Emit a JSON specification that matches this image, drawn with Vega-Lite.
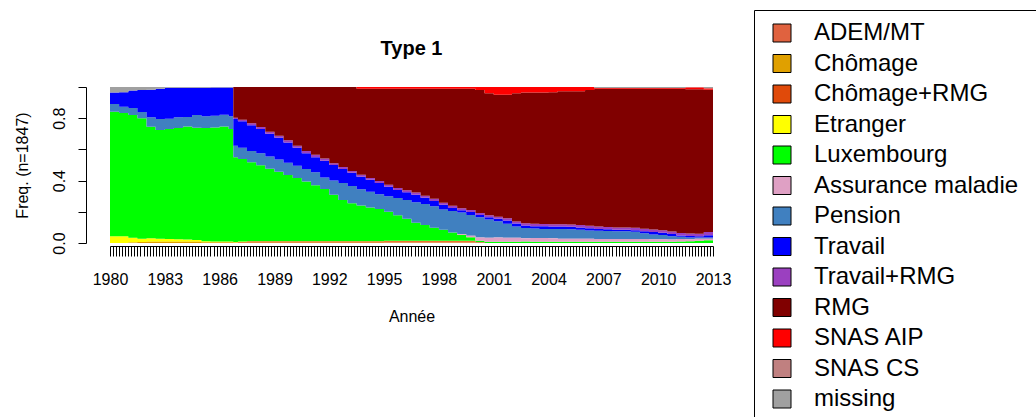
{
"$schema": "https://vega.github.io/schema/vega-lite/v6.json",
"autosize": {"type": "none"},
"width": 603,
"height": 156,
"padding": {"left": 110, "top": 87, "right": 323, "bottom": 174},
"background": "white",
"config": {"view": {"stroke": null}, "font": "Liberation Sans"},
"title": {"text": "Type 1", "fontSize": 20, "fontWeight": "bold", "font": "Liberation Sans", "color": "#000", "anchor": "middle", "frame": "group", "baseline": "alphabetic", "offset": 30, "dy": 95},
"data": {"values": [
{"d":"1980-01-01","s":"Etranger","k":4,"v":0.043},{"d":"1980-01-01","s":"Luxembourg","k":5,"v":0.799},{"d":"1980-01-01","s":"Pension","k":7,"v":0.049},{"d":"1980-01-01","s":"Travail","k":8,"v":0.074},{"d":"1980-01-01","s":"missing","k":13,"v":0.035},
{"d":"1980-07-01","s":"Etranger","k":4,"v":0.043},{"d":"1980-07-01","s":"Luxembourg","k":5,"v":0.790},{"d":"1980-07-01","s":"Pension","k":7,"v":0.041},{"d":"1980-07-01","s":"Travail","k":8,"v":0.093},{"d":"1980-07-01","s":"missing","k":13,"v":0.033},
{"d":"1981-01-01","s":"Etranger","k":4,"v":0.030},{"d":"1981-01-01","s":"Chômage","k":2,"v":0.004},{"d":"1981-01-01","s":"Luxembourg","k":5,"v":0.786},{"d":"1981-01-01","s":"Pension","k":7,"v":0.045},{"d":"1981-01-01","s":"Travail","k":8,"v":0.113},{"d":"1981-01-01","s":"missing","k":13,"v":0.022},
{"d":"1981-07-01","s":"Etranger","k":4,"v":0.022},{"d":"1981-07-01","s":"Chômage","k":2,"v":0.006},{"d":"1981-07-01","s":"Luxembourg","k":5,"v":0.772},{"d":"1981-07-01","s":"Pension","k":7,"v":0.040},{"d":"1981-07-01","s":"Travail","k":8,"v":0.140},{"d":"1981-07-01","s":"missing","k":13,"v":0.020},
{"d":"1982-01-01","s":"Etranger","k":4,"v":0.022},{"d":"1982-01-01","s":"Chômage","k":2,"v":0.008},{"d":"1982-01-01","s":"Luxembourg","k":5,"v":0.715},{"d":"1982-01-01","s":"Pension","k":7,"v":0.061},{"d":"1982-01-01","s":"Travail","k":8,"v":0.176},{"d":"1982-01-01","s":"missing","k":13,"v":0.018},
{"d":"1982-07-01","s":"Etranger","k":4,"v":0.020},{"d":"1982-07-01","s":"Chômage","k":2,"v":0.008},{"d":"1982-07-01","s":"Luxembourg","k":5,"v":0.697},{"d":"1982-07-01","s":"Pension","k":7,"v":0.070},{"d":"1982-07-01","s":"Travail","k":8,"v":0.193},{"d":"1982-07-01","s":"missing","k":13,"v":0.012},
{"d":"1983-01-01","s":"Etranger","k":4,"v":0.018},{"d":"1983-01-01","s":"Chômage","k":2,"v":0.008},{"d":"1983-01-01","s":"Luxembourg","k":5,"v":0.705},{"d":"1983-01-01","s":"Pension","k":7,"v":0.066},{"d":"1983-01-01","s":"Travail","k":8,"v":0.198},{"d":"1983-01-01","s":"missing","k":13,"v":0.005},
{"d":"1983-07-01","s":"Etranger","k":4,"v":0.016},{"d":"1983-07-01","s":"Chômage","k":2,"v":0.008},{"d":"1983-07-01","s":"Luxembourg","k":5,"v":0.713},{"d":"1983-07-01","s":"Pension","k":7,"v":0.069},{"d":"1983-07-01","s":"Travail","k":8,"v":0.189},{"d":"1983-07-01","s":"missing","k":13,"v":0.005},
{"d":"1984-01-01","s":"Etranger","k":4,"v":0.014},{"d":"1984-01-01","s":"Chômage","k":2,"v":0.008},{"d":"1984-01-01","s":"Luxembourg","k":5,"v":0.724},{"d":"1984-01-01","s":"Pension","k":7,"v":0.062},{"d":"1984-01-01","s":"Travail","k":8,"v":0.187},{"d":"1984-01-01","s":"missing","k":13,"v":0.005},
{"d":"1984-07-01","s":"Etranger","k":4,"v":0.012},{"d":"1984-07-01","s":"Chômage","k":2,"v":0.008},{"d":"1984-07-01","s":"Luxembourg","k":5,"v":0.719},{"d":"1984-07-01","s":"Pension","k":7,"v":0.081},{"d":"1984-07-01","s":"Travail","k":8,"v":0.175},{"d":"1984-07-01","s":"missing","k":13,"v":0.005},
{"d":"1985-01-01","s":"Etranger","k":4,"v":0.007},{"d":"1985-01-01","s":"Chômage","k":2,"v":0.005},{"d":"1985-01-01","s":"Luxembourg","k":5,"v":0.725},{"d":"1985-01-01","s":"Pension","k":7,"v":0.075},{"d":"1985-01-01","s":"Travail","k":8,"v":0.183},{"d":"1985-01-01","s":"missing","k":13,"v":0.005},
{"d":"1985-07-01","s":"Etranger","k":4,"v":0.005},{"d":"1985-07-01","s":"Chômage","k":2,"v":0.005},{"d":"1985-07-01","s":"Luxembourg","k":5,"v":0.731},{"d":"1985-07-01","s":"Pension","k":7,"v":0.075},{"d":"1985-07-01","s":"Travail","k":8,"v":0.180},{"d":"1985-07-01","s":"missing","k":13,"v":0.004},
{"d":"1986-01-01","s":"Etranger","k":4,"v":0.004},{"d":"1986-01-01","s":"Chômage","k":2,"v":0.005},{"d":"1986-01-01","s":"Luxembourg","k":5,"v":0.737},{"d":"1986-01-01","s":"Pension","k":7,"v":0.076},{"d":"1986-01-01","s":"Travail","k":8,"v":0.174},{"d":"1986-01-01","s":"missing","k":13,"v":0.004},
{"d":"1986-07-01","s":"Etranger","k":4,"v":0.004},{"d":"1986-07-01","s":"Chômage","k":2,"v":0.005},{"d":"1986-07-01","s":"Luxembourg","k":5,"v":0.722},{"d":"1986-07-01","s":"Pension","k":7,"v":0.081},{"d":"1986-07-01","s":"Travail","k":8,"v":0.184},{"d":"1986-07-01","s":"missing","k":13,"v":0.004},
{"d":"1986-10-01","s":"Etranger","k":4,"v":0.003},{"d":"1986-10-01","s":"Chômage","k":2,"v":0.004},{"d":"1986-10-01","s":"Luxembourg","k":5,"v":0.542},{"d":"1986-10-01","s":"Pension","k":7,"v":0.075},{"d":"1986-10-01","s":"Travail","k":8,"v":0.171},{"d":"1986-10-01","s":"Travail+RMG","k":9,"v":0.008},{"d":"1986-10-01","s":"RMG","k":10,"v":0.197},{"d":"1986-10-01","s":"missing","k":13,"v":0},
{"d":"1987-01-01","s":"Etranger","k":4,"v":0.003},{"d":"1987-01-01","s":"Chômage","k":2,"v":0.004},{"d":"1987-01-01","s":"Chômage+RMG","k":3,"v":0.003},{"d":"1987-01-01","s":"Luxembourg","k":5,"v":0.528},{"d":"1987-01-01","s":"Pension","k":7,"v":0.072},{"d":"1987-01-01","s":"Travail","k":8,"v":0.170},{"d":"1987-01-01","s":"Travail+RMG","k":9,"v":0.010},{"d":"1987-01-01","s":"RMG","k":10,"v":0.210},
{"d":"1987-07-01","s":"Etranger","k":4,"v":0.003},{"d":"1987-07-01","s":"Chômage","k":2,"v":0.004},{"d":"1987-07-01","s":"Chômage+RMG","k":3,"v":0.005},{"d":"1987-07-01","s":"Luxembourg","k":5,"v":0.505},{"d":"1987-07-01","s":"Pension","k":7,"v":0.073},{"d":"1987-07-01","s":"Travail","k":8,"v":0.165},{"d":"1987-07-01","s":"Travail+RMG","k":9,"v":0.012},{"d":"1987-07-01","s":"RMG","k":10,"v":0.233},
{"d":"1988-01-01","s":"Etranger","k":4,"v":0.003},{"d":"1988-01-01","s":"Chômage","k":2,"v":0.004},{"d":"1988-01-01","s":"Chômage+RMG","k":3,"v":0.005},{"d":"1988-01-01","s":"Luxembourg","k":5,"v":0.486},{"d":"1988-01-01","s":"Pension","k":7,"v":0.077},{"d":"1988-01-01","s":"Travail","k":8,"v":0.155},{"d":"1988-01-01","s":"Travail+RMG","k":9,"v":0.013},{"d":"1988-01-01","s":"RMG","k":10,"v":0.257},
{"d":"1988-07-01","s":"Etranger","k":4,"v":0.003},{"d":"1988-07-01","s":"Chômage","k":2,"v":0.004},{"d":"1988-07-01","s":"Chômage+RMG","k":3,"v":0.005},{"d":"1988-07-01","s":"Luxembourg","k":5,"v":0.464},{"d":"1988-07-01","s":"Pension","k":7,"v":0.079},{"d":"1988-07-01","s":"Travail","k":8,"v":0.145},{"d":"1988-07-01","s":"Travail+RMG","k":9,"v":0.013},{"d":"1988-07-01","s":"RMG","k":10,"v":0.287},
{"d":"1989-01-01","s":"Etranger","k":4,"v":0.003},{"d":"1989-01-01","s":"Chômage","k":2,"v":0.004},{"d":"1989-01-01","s":"Chômage+RMG","k":3,"v":0.005},{"d":"1989-01-01","s":"Luxembourg","k":5,"v":0.445},{"d":"1989-01-01","s":"Pension","k":7,"v":0.078},{"d":"1989-01-01","s":"Travail","k":8,"v":0.140},{"d":"1989-01-01","s":"Travail+RMG","k":9,"v":0.013},{"d":"1989-01-01","s":"RMG","k":10,"v":0.312},
{"d":"1989-07-01","s":"Etranger","k":4,"v":0.003},{"d":"1989-07-01","s":"Chômage","k":2,"v":0.004},{"d":"1989-07-01","s":"Chômage+RMG","k":3,"v":0.005},{"d":"1989-07-01","s":"Luxembourg","k":5,"v":0.424},{"d":"1989-07-01","s":"Pension","k":7,"v":0.079},{"d":"1989-07-01","s":"Travail","k":8,"v":0.130},{"d":"1989-07-01","s":"Travail+RMG","k":9,"v":0.014},{"d":"1989-07-01","s":"RMG","k":10,"v":0.341},
{"d":"1990-01-01","s":"Etranger","k":4,"v":0.003},{"d":"1990-01-01","s":"Chômage","k":2,"v":0.004},{"d":"1990-01-01","s":"Chômage+RMG","k":3,"v":0.005},{"d":"1990-01-01","s":"Luxembourg","k":5,"v":0.405},{"d":"1990-01-01","s":"Pension","k":7,"v":0.078},{"d":"1990-01-01","s":"Travail","k":8,"v":0.115},{"d":"1990-01-01","s":"Travail+RMG","k":9,"v":0.014},{"d":"1990-01-01","s":"RMG","k":10,"v":0.376},
{"d":"1990-07-01","s":"Etranger","k":4,"v":0.003},{"d":"1990-07-01","s":"Chômage","k":2,"v":0.004},{"d":"1990-07-01","s":"Chômage+RMG","k":3,"v":0.005},{"d":"1990-07-01","s":"Luxembourg","k":5,"v":0.383},{"d":"1990-07-01","s":"Pension","k":7,"v":0.080},{"d":"1990-07-01","s":"Travail","k":8,"v":0.100},{"d":"1990-07-01","s":"Travail+RMG","k":9,"v":0.015},{"d":"1990-07-01","s":"RMG","k":10,"v":0.410},
{"d":"1991-01-01","s":"Etranger","k":4,"v":0.003},{"d":"1991-01-01","s":"Chômage","k":2,"v":0.004},{"d":"1991-01-01","s":"Chômage+RMG","k":3,"v":0.005},{"d":"1991-01-01","s":"Luxembourg","k":5,"v":0.358},{"d":"1991-01-01","s":"Pension","k":7,"v":0.083},{"d":"1991-01-01","s":"Travail","k":8,"v":0.097},{"d":"1991-01-01","s":"Travail+RMG","k":9,"v":0.015},{"d":"1991-01-01","s":"RMG","k":10,"v":0.435},
{"d":"1991-07-01","s":"Etranger","k":4,"v":0.003},{"d":"1991-07-01","s":"Chômage","k":2,"v":0.004},{"d":"1991-07-01","s":"Chômage+RMG","k":3,"v":0.005},{"d":"1991-07-01","s":"Luxembourg","k":5,"v":0.334},{"d":"1991-07-01","s":"Pension","k":7,"v":0.074},{"d":"1991-07-01","s":"Travail","k":8,"v":0.108},{"d":"1991-07-01","s":"Travail+RMG","k":9,"v":0.014},{"d":"1991-07-01","s":"RMG","k":10,"v":0.458},
{"d":"1992-01-01","s":"Etranger","k":4,"v":0.003},{"d":"1992-01-01","s":"Chômage","k":2,"v":0.004},{"d":"1992-01-01","s":"Chômage+RMG","k":3,"v":0.005},{"d":"1992-01-01","s":"Luxembourg","k":5,"v":0.298},{"d":"1992-01-01","s":"Pension","k":7,"v":0.090},{"d":"1992-01-01","s":"Travail","k":8,"v":0.100},{"d":"1992-01-01","s":"Travail+RMG","k":9,"v":0.012},{"d":"1992-01-01","s":"RMG","k":10,"v":0.488},
{"d":"1992-07-01","s":"Etranger","k":4,"v":0.003},{"d":"1992-07-01","s":"Chômage","k":2,"v":0.004},{"d":"1992-07-01","s":"Chômage+RMG","k":3,"v":0.005},{"d":"1992-07-01","s":"Luxembourg","k":5,"v":0.263},{"d":"1992-07-01","s":"Pension","k":7,"v":0.110},{"d":"1992-07-01","s":"Travail","k":8,"v":0.090},{"d":"1992-07-01","s":"Travail+RMG","k":9,"v":0.012},{"d":"1992-07-01","s":"RMG","k":10,"v":0.513},
{"d":"1993-01-01","s":"Etranger","k":4,"v":0.003},{"d":"1993-01-01","s":"Chômage","k":2,"v":0.004},{"d":"1993-01-01","s":"Chômage+RMG","k":3,"v":0.005},{"d":"1993-01-01","s":"Luxembourg","k":5,"v":0.243},{"d":"1993-01-01","s":"Pension","k":7,"v":0.110},{"d":"1993-01-01","s":"Travail","k":8,"v":0.085},{"d":"1993-01-01","s":"Travail+RMG","k":9,"v":0.012},{"d":"1993-01-01","s":"RMG","k":10,"v":0.538},
{"d":"1993-07-01","s":"Etranger","k":4,"v":0.003},{"d":"1993-07-01","s":"Chômage","k":2,"v":0.004},{"d":"1993-07-01","s":"Chômage+RMG","k":3,"v":0.005},{"d":"1993-07-01","s":"Luxembourg","k":5,"v":0.228},{"d":"1993-07-01","s":"Pension","k":7,"v":0.105},{"d":"1993-07-01","s":"Travail","k":8,"v":0.080},{"d":"1993-07-01","s":"Travail+RMG","k":9,"v":0.012},{"d":"1993-07-01","s":"RMG","k":10,"v":0.551},{"d":"1993-07-01","s":"SNAS AIP","k":11,"v":0.012},
{"d":"1994-01-01","s":"Etranger","k":4,"v":0.003},{"d":"1994-01-01","s":"Chômage","k":2,"v":0.004},{"d":"1994-01-01","s":"Chômage+RMG","k":3,"v":0.005},{"d":"1994-01-01","s":"Luxembourg","k":5,"v":0.216},{"d":"1994-01-01","s":"Pension","k":7,"v":0.100},{"d":"1994-01-01","s":"Travail","k":8,"v":0.077},{"d":"1994-01-01","s":"Travail+RMG","k":9,"v":0.012},{"d":"1994-01-01","s":"RMG","k":10,"v":0.571},{"d":"1994-01-01","s":"SNAS AIP","k":11,"v":0.012},
{"d":"1994-07-01","s":"Etranger","k":4,"v":0.003},{"d":"1994-07-01","s":"Chômage","k":2,"v":0.004},{"d":"1994-07-01","s":"Chômage+RMG","k":3,"v":0.005},{"d":"1994-07-01","s":"Luxembourg","k":5,"v":0.206},{"d":"1994-07-01","s":"Pension","k":7,"v":0.095},{"d":"1994-07-01","s":"Travail","k":8,"v":0.072},{"d":"1994-07-01","s":"Travail+RMG","k":9,"v":0.012},{"d":"1994-07-01","s":"RMG","k":10,"v":0.591},{"d":"1994-07-01","s":"SNAS AIP","k":11,"v":0.012},
{"d":"1995-01-01","s":"ADEM/MT","k":1,"v":0.003},{"d":"1995-01-01","s":"Etranger","k":4,"v":0.003},{"d":"1995-01-01","s":"Chômage","k":2,"v":0.004},{"d":"1995-01-01","s":"Chômage+RMG","k":3,"v":0.005},{"d":"1995-01-01","s":"Luxembourg","k":5,"v":0.185},{"d":"1995-01-01","s":"Pension","k":7,"v":0.100},{"d":"1995-01-01","s":"Travail","k":8,"v":0.060},{"d":"1995-01-01","s":"Travail+RMG","k":9,"v":0.013},{"d":"1995-01-01","s":"RMG","k":10,"v":0.615},{"d":"1995-01-01","s":"SNAS AIP","k":11,"v":0.012},
{"d":"1995-07-01","s":"ADEM/MT","k":1,"v":0.003},{"d":"1995-07-01","s":"Etranger","k":4,"v":0.003},{"d":"1995-07-01","s":"Chômage","k":2,"v":0.004},{"d":"1995-07-01","s":"Chômage+RMG","k":3,"v":0.005},{"d":"1995-07-01","s":"Luxembourg","k":5,"v":0.163},{"d":"1995-07-01","s":"Pension","k":7,"v":0.110},{"d":"1995-07-01","s":"Travail","k":8,"v":0.052},{"d":"1995-07-01","s":"Travail+RMG","k":9,"v":0.013},{"d":"1995-07-01","s":"RMG","k":10,"v":0.635},{"d":"1995-07-01","s":"SNAS AIP","k":11,"v":0.012},
{"d":"1996-01-01","s":"ADEM/MT","k":1,"v":0.003},{"d":"1996-01-01","s":"Etranger","k":4,"v":0.003},{"d":"1996-01-01","s":"Chômage","k":2,"v":0.004},{"d":"1996-01-01","s":"Chômage+RMG","k":3,"v":0.005},{"d":"1996-01-01","s":"Luxembourg","k":5,"v":0.140},{"d":"1996-01-01","s":"Pension","k":7,"v":0.120},{"d":"1996-01-01","s":"Travail","k":8,"v":0.050},{"d":"1996-01-01","s":"Travail+RMG","k":9,"v":0.013},{"d":"1996-01-01","s":"RMG","k":10,"v":0.650},{"d":"1996-01-01","s":"SNAS AIP","k":11,"v":0.012},
{"d":"1996-07-01","s":"ADEM/MT","k":1,"v":0.003},{"d":"1996-07-01","s":"Etranger","k":4,"v":0.003},{"d":"1996-07-01","s":"Chômage","k":2,"v":0.004},{"d":"1996-07-01","s":"Chômage+RMG","k":3,"v":0.005},{"d":"1996-07-01","s":"Luxembourg","k":5,"v":0.115},{"d":"1996-07-01","s":"Pension","k":7,"v":0.132},{"d":"1996-07-01","s":"Travail","k":8,"v":0.048},{"d":"1996-07-01","s":"Travail+RMG","k":9,"v":0.013},{"d":"1996-07-01","s":"RMG","k":10,"v":0.665},{"d":"1996-07-01","s":"SNAS AIP","k":11,"v":0.012},
{"d":"1997-01-01","s":"ADEM/MT","k":1,"v":0.003},{"d":"1997-01-01","s":"Etranger","k":4,"v":0.003},{"d":"1997-01-01","s":"Chômage","k":2,"v":0.004},{"d":"1997-01-01","s":"Chômage+RMG","k":3,"v":0.005},{"d":"1997-01-01","s":"Luxembourg","k":5,"v":0.100},{"d":"1997-01-01","s":"Pension","k":7,"v":0.135},{"d":"1997-01-01","s":"Travail","k":8,"v":0.040},{"d":"1997-01-01","s":"Travail+RMG","k":9,"v":0.013},{"d":"1997-01-01","s":"RMG","k":10,"v":0.685},{"d":"1997-01-01","s":"SNAS AIP","k":11,"v":0.012},
{"d":"1997-07-01","s":"ADEM/MT","k":1,"v":0.003},{"d":"1997-07-01","s":"Etranger","k":4,"v":0.003},{"d":"1997-07-01","s":"Chômage","k":2,"v":0.004},{"d":"1997-07-01","s":"Chômage+RMG","k":3,"v":0.005},{"d":"1997-07-01","s":"Luxembourg","k":5,"v":0.082},{"d":"1997-07-01","s":"Pension","k":7,"v":0.138},{"d":"1997-07-01","s":"Travail","k":8,"v":0.035},{"d":"1997-07-01","s":"Travail+RMG","k":9,"v":0.013},{"d":"1997-07-01","s":"RMG","k":10,"v":0.705},{"d":"1997-07-01","s":"SNAS AIP","k":11,"v":0.012},
{"d":"1998-01-01","s":"ADEM/MT","k":1,"v":0.003},{"d":"1998-01-01","s":"Etranger","k":4,"v":0.003},{"d":"1998-01-01","s":"Chômage","k":2,"v":0.004},{"d":"1998-01-01","s":"Chômage+RMG","k":3,"v":0.005},{"d":"1998-01-01","s":"Luxembourg","k":5,"v":0.070},{"d":"1998-01-01","s":"Pension","k":7,"v":0.130},{"d":"1998-01-01","s":"Travail","k":8,"v":0.030},{"d":"1998-01-01","s":"Travail+RMG","k":9,"v":0.013},{"d":"1998-01-01","s":"RMG","k":10,"v":0.730},{"d":"1998-01-01","s":"SNAS AIP","k":11,"v":0.012},
{"d":"1998-07-01","s":"ADEM/MT","k":1,"v":0.003},{"d":"1998-07-01","s":"Etranger","k":4,"v":0.003},{"d":"1998-07-01","s":"Chômage","k":2,"v":0.004},{"d":"1998-07-01","s":"Chômage+RMG","k":3,"v":0.005},{"d":"1998-07-01","s":"Luxembourg","k":5,"v":0.053},{"d":"1998-07-01","s":"Pension","k":7,"v":0.137},{"d":"1998-07-01","s":"Travail","k":8,"v":0.020},{"d":"1998-07-01","s":"Travail+RMG","k":9,"v":0.013},{"d":"1998-07-01","s":"RMG","k":10,"v":0.750},{"d":"1998-07-01","s":"SNAS AIP","k":11,"v":0.012},
{"d":"1999-01-01","s":"ADEM/MT","k":1,"v":0.003},{"d":"1999-01-01","s":"Etranger","k":4,"v":0.003},{"d":"1999-01-01","s":"Chômage","k":2,"v":0.004},{"d":"1999-01-01","s":"Chômage+RMG","k":3,"v":0.005},{"d":"1999-01-01","s":"Luxembourg","k":5,"v":0.038},{"d":"1999-01-01","s":"Assurance maladie","k":6,"v":0.005},{"d":"1999-01-01","s":"Pension","k":7,"v":0.137},{"d":"1999-01-01","s":"Travail","k":8,"v":0.015},{"d":"1999-01-01","s":"Travail+RMG","k":9,"v":0.013},{"d":"1999-01-01","s":"RMG","k":10,"v":0.765},{"d":"1999-01-01","s":"SNAS AIP","k":11,"v":0.012},
{"d":"1999-07-01","s":"ADEM/MT","k":1,"v":0.003},{"d":"1999-07-01","s":"Etranger","k":4,"v":0.003},{"d":"1999-07-01","s":"Chômage","k":2,"v":0.004},{"d":"1999-07-01","s":"Chômage+RMG","k":3,"v":0.005},{"d":"1999-07-01","s":"Luxembourg","k":5,"v":0.022},{"d":"1999-07-01","s":"Assurance maladie","k":6,"v":0.010},{"d":"1999-07-01","s":"Pension","k":7,"v":0.133},{"d":"1999-07-01","s":"Travail","k":8,"v":0.018},{"d":"1999-07-01","s":"Travail+RMG","k":9,"v":0.013},{"d":"1999-07-01","s":"RMG","k":10,"v":0.777},{"d":"1999-07-01","s":"SNAS AIP","k":11,"v":0.012},
{"d":"2000-01-01","s":"ADEM/MT","k":1,"v":0.002},{"d":"2000-01-01","s":"Etranger","k":4,"v":0},{"d":"2000-01-01","s":"Chômage","k":2,"v":0},{"d":"2000-01-01","s":"Chômage+RMG","k":3,"v":0.003},{"d":"2000-01-01","s":"Luxembourg","k":5,"v":0.010},{"d":"2000-01-01","s":"Assurance maladie","k":6,"v":0.020},{"d":"2000-01-01","s":"Pension","k":7,"v":0.130},{"d":"2000-01-01","s":"Travail","k":8,"v":0.015},{"d":"2000-01-01","s":"Travail+RMG","k":9,"v":0.013},{"d":"2000-01-01","s":"RMG","k":10,"v":0.787},{"d":"2000-01-01","s":"SNAS AIP","k":11,"v":0.020},
{"d":"2000-07-01","s":"ADEM/MT","k":1,"v":0},{"d":"2000-07-01","s":"Chômage+RMG","k":3,"v":0},{"d":"2000-07-01","s":"Luxembourg","k":5,"v":0.008},{"d":"2000-07-01","s":"Assurance maladie","k":6,"v":0.025},{"d":"2000-07-01","s":"Pension","k":7,"v":0.117},{"d":"2000-07-01","s":"Travail","k":8,"v":0.015},{"d":"2000-07-01","s":"Travail+RMG","k":9,"v":0.013},{"d":"2000-07-01","s":"RMG","k":10,"v":0.782},{"d":"2000-07-01","s":"SNAS AIP","k":11,"v":0.040},
{"d":"2001-01-01","s":"Luxembourg","k":5,"v":0.008},{"d":"2001-01-01","s":"Assurance maladie","k":6,"v":0.028},{"d":"2001-01-01","s":"Pension","k":7,"v":0.104},{"d":"2001-01-01","s":"Travail","k":8,"v":0.015},{"d":"2001-01-01","s":"Travail+RMG","k":9,"v":0.013},{"d":"2001-01-01","s":"RMG","k":10,"v":0.782},{"d":"2001-01-01","s":"SNAS AIP","k":11,"v":0.050},
{"d":"2001-07-01","s":"Luxembourg","k":5,"v":0.008},{"d":"2001-07-01","s":"Assurance maladie","k":6,"v":0.025},{"d":"2001-07-01","s":"Pension","k":7,"v":0.091},{"d":"2001-07-01","s":"Travail","k":8,"v":0.021},{"d":"2001-07-01","s":"Travail+RMG","k":9,"v":0.013},{"d":"2001-07-01","s":"RMG","k":10,"v":0.792},{"d":"2001-07-01","s":"SNAS AIP","k":11,"v":0.050},
{"d":"2002-01-01","s":"Luxembourg","k":5,"v":0.008},{"d":"2002-01-01","s":"Assurance maladie","k":6,"v":0.025},{"d":"2002-01-01","s":"Pension","k":7,"v":0.072},{"d":"2002-01-01","s":"Travail","k":8,"v":0.020},{"d":"2002-01-01","s":"Travail+RMG","k":9,"v":0.013},{"d":"2002-01-01","s":"RMG","k":10,"v":0.822},{"d":"2002-01-01","s":"SNAS AIP","k":11,"v":0.040},
{"d":"2002-07-01","s":"Luxembourg","k":5,"v":0.009},{"d":"2002-07-01","s":"Assurance maladie","k":6,"v":0.022},{"d":"2002-07-01","s":"Pension","k":7,"v":0.065},{"d":"2002-07-01","s":"Travail","k":8,"v":0.016},{"d":"2002-07-01","s":"Travail+RMG","k":9,"v":0.015},{"d":"2002-07-01","s":"RMG","k":10,"v":0.838},{"d":"2002-07-01","s":"SNAS AIP","k":11,"v":0.035},
{"d":"2003-01-01","s":"Luxembourg","k":5,"v":0.008},{"d":"2003-01-01","s":"Assurance maladie","k":6,"v":0.024},{"d":"2003-01-01","s":"Pension","k":7,"v":0.061},{"d":"2003-01-01","s":"Travail","k":8,"v":0.015},{"d":"2003-01-01","s":"Travail+RMG","k":9,"v":0.015},{"d":"2003-01-01","s":"RMG","k":10,"v":0.842},{"d":"2003-01-01","s":"SNAS AIP","k":11,"v":0.035},
{"d":"2003-07-01","s":"Luxembourg","k":5,"v":0.008},{"d":"2003-07-01","s":"Assurance maladie","k":6,"v":0.024},{"d":"2003-07-01","s":"Pension","k":7,"v":0.058},{"d":"2003-07-01","s":"Travail","k":8,"v":0.017},{"d":"2003-07-01","s":"Travail+RMG","k":9,"v":0.015},{"d":"2003-07-01","s":"RMG","k":10,"v":0.843},{"d":"2003-07-01","s":"SNAS AIP","k":11,"v":0.035},
{"d":"2004-01-01","s":"Luxembourg","k":5,"v":0.008},{"d":"2004-01-01","s":"Assurance maladie","k":6,"v":0.022},{"d":"2004-01-01","s":"Pension","k":7,"v":0.060},{"d":"2004-01-01","s":"Travail","k":8,"v":0.015},{"d":"2004-01-01","s":"Travail+RMG","k":9,"v":0.015},{"d":"2004-01-01","s":"RMG","k":10,"v":0.847},{"d":"2004-01-01","s":"SNAS AIP","k":11,"v":0.033},
{"d":"2004-07-01","s":"Luxembourg","k":5,"v":0.008},{"d":"2004-07-01","s":"Assurance maladie","k":6,"v":0.020},{"d":"2004-07-01","s":"Pension","k":7,"v":0.061},{"d":"2004-07-01","s":"Travail","k":8,"v":0.016},{"d":"2004-07-01","s":"Travail+RMG","k":9,"v":0.015},{"d":"2004-07-01","s":"RMG","k":10,"v":0.852},{"d":"2004-07-01","s":"SNAS AIP","k":11,"v":0.028},
{"d":"2005-01-01","s":"Luxembourg","k":5,"v":0.008},{"d":"2005-01-01","s":"Assurance maladie","k":6,"v":0.020},{"d":"2005-01-01","s":"Pension","k":7,"v":0.060},{"d":"2005-01-01","s":"Travail","k":8,"v":0.016},{"d":"2005-01-01","s":"Travail+RMG","k":9,"v":0.015},{"d":"2005-01-01","s":"RMG","k":10,"v":0.853},{"d":"2005-01-01","s":"SNAS AIP","k":11,"v":0.028},
{"d":"2005-07-01","s":"Luxembourg","k":5,"v":0.008},{"d":"2005-07-01","s":"Assurance maladie","k":6,"v":0.020},{"d":"2005-07-01","s":"Pension","k":7,"v":0.057},{"d":"2005-07-01","s":"Travail","k":8,"v":0.015},{"d":"2005-07-01","s":"Travail+RMG","k":9,"v":0.015},{"d":"2005-07-01","s":"RMG","k":10,"v":0.857},{"d":"2005-07-01","s":"SNAS AIP","k":11,"v":0.028},
{"d":"2006-01-01","s":"Luxembourg","k":5,"v":0.008},{"d":"2006-01-01","s":"Assurance maladie","k":6,"v":0.020},{"d":"2006-01-01","s":"Pension","k":7,"v":0.052},{"d":"2006-01-01","s":"Travail","k":8,"v":0.015},{"d":"2006-01-01","s":"Travail+RMG","k":9,"v":0.015},{"d":"2006-01-01","s":"RMG","k":10,"v":0.870},{"d":"2006-01-01","s":"SNAS AIP","k":11,"v":0.020},
{"d":"2006-07-01","s":"Luxembourg","k":5,"v":0.008},{"d":"2006-07-01","s":"Assurance maladie","k":6,"v":0.018},{"d":"2006-07-01","s":"Pension","k":7,"v":0.052},{"d":"2006-07-01","s":"Travail","k":8,"v":0.012},{"d":"2006-07-01","s":"Travail+RMG","k":9,"v":0.015},{"d":"2006-07-01","s":"RMG","k":10,"v":0.883},{"d":"2006-07-01","s":"SNAS AIP","k":11,"v":0.006},{"d":"2006-07-01","s":"missing","k":13,"v":0.006},
{"d":"2007-01-01","s":"Luxembourg","k":5,"v":0.008},{"d":"2007-01-01","s":"Assurance maladie","k":6,"v":0.018},{"d":"2007-01-01","s":"Pension","k":7,"v":0.051},{"d":"2007-01-01","s":"Travail","k":8,"v":0.011},{"d":"2007-01-01","s":"Travail+RMG","k":9,"v":0.015},{"d":"2007-01-01","s":"RMG","k":10,"v":0.885},{"d":"2007-01-01","s":"SNAS AIP","k":11,"v":0.006},{"d":"2007-01-01","s":"missing","k":13,"v":0.006},
{"d":"2007-07-01","s":"Luxembourg","k":5,"v":0.008},{"d":"2007-07-01","s":"Assurance maladie","k":6,"v":0.018},{"d":"2007-07-01","s":"Pension","k":7,"v":0.050},{"d":"2007-07-01","s":"Travail","k":8,"v":0.009},{"d":"2007-07-01","s":"Travail+RMG","k":9,"v":0.015},{"d":"2007-07-01","s":"RMG","k":10,"v":0.888},{"d":"2007-07-01","s":"SNAS AIP","k":11,"v":0.006},{"d":"2007-07-01","s":"missing","k":13,"v":0.006},
{"d":"2008-01-01","s":"Luxembourg","k":5,"v":0.008},{"d":"2008-01-01","s":"Assurance maladie","k":6,"v":0.018},{"d":"2008-01-01","s":"Pension","k":7,"v":0.049},{"d":"2008-01-01","s":"Travail","k":8,"v":0.010},{"d":"2008-01-01","s":"Travail+RMG","k":9,"v":0.015},{"d":"2008-01-01","s":"RMG","k":10,"v":0.888},{"d":"2008-01-01","s":"SNAS AIP","k":11,"v":0.006},{"d":"2008-01-01","s":"missing","k":13,"v":0.006},
{"d":"2008-07-01","s":"Luxembourg","k":5,"v":0.008},{"d":"2008-07-01","s":"Assurance maladie","k":6,"v":0.018},{"d":"2008-07-01","s":"Pension","k":7,"v":0.046},{"d":"2008-07-01","s":"Travail","k":8,"v":0.010},{"d":"2008-07-01","s":"Travail+RMG","k":9,"v":0.015},{"d":"2008-07-01","s":"RMG","k":10,"v":0.891},{"d":"2008-07-01","s":"SNAS AIP","k":11,"v":0.006},{"d":"2008-07-01","s":"missing","k":13,"v":0.006},
{"d":"2009-01-01","s":"Luxembourg","k":5,"v":0.008},{"d":"2009-01-01","s":"Assurance maladie","k":6,"v":0.018},{"d":"2009-01-01","s":"Pension","k":7,"v":0.036},{"d":"2009-01-01","s":"Travail","k":8,"v":0.013},{"d":"2009-01-01","s":"Travail+RMG","k":9,"v":0.016},{"d":"2009-01-01","s":"RMG","k":10,"v":0.897},{"d":"2009-01-01","s":"SNAS AIP","k":11,"v":0.006},{"d":"2009-01-01","s":"missing","k":13,"v":0.006},
{"d":"2009-07-01","s":"Luxembourg","k":5,"v":0.008},{"d":"2009-07-01","s":"Assurance maladie","k":6,"v":0.016},{"d":"2009-07-01","s":"Pension","k":7,"v":0.031},{"d":"2009-07-01","s":"Travail","k":8,"v":0.015},{"d":"2009-07-01","s":"Travail+RMG","k":9,"v":0.016},{"d":"2009-07-01","s":"RMG","k":10,"v":0.902},{"d":"2009-07-01","s":"SNAS AIP","k":11,"v":0.006},{"d":"2009-07-01","s":"missing","k":13,"v":0.006},
{"d":"2010-01-01","s":"Luxembourg","k":5,"v":0.008},{"d":"2010-01-01","s":"Assurance maladie","k":6,"v":0.016},{"d":"2010-01-01","s":"Pension","k":7,"v":0.028},{"d":"2010-01-01","s":"Travail","k":8,"v":0.014},{"d":"2010-01-01","s":"Travail+RMG","k":9,"v":0.016},{"d":"2010-01-01","s":"RMG","k":10,"v":0.906},{"d":"2010-01-01","s":"SNAS AIP","k":11,"v":0.006},{"d":"2010-01-01","s":"missing","k":13,"v":0.006},
{"d":"2010-07-01","s":"Luxembourg","k":5,"v":0.008},{"d":"2010-07-01","s":"Assurance maladie","k":6,"v":0.015},{"d":"2010-07-01","s":"Pension","k":7,"v":0.020},{"d":"2010-07-01","s":"Travail","k":8,"v":0.015},{"d":"2010-07-01","s":"Travail+RMG","k":9,"v":0.016},{"d":"2010-07-01","s":"RMG","k":10,"v":0.914},{"d":"2010-07-01","s":"SNAS AIP","k":11,"v":0.006},{"d":"2010-07-01","s":"missing","k":13,"v":0.006},
{"d":"2011-01-01","s":"Luxembourg","k":5,"v":0.010},{"d":"2011-01-01","s":"Assurance maladie","k":6,"v":0.015},{"d":"2011-01-01","s":"Pension","k":7,"v":0.015},{"d":"2011-01-01","s":"Travail","k":8,"v":0.008},{"d":"2011-01-01","s":"Travail+RMG","k":9,"v":0.016},{"d":"2011-01-01","s":"RMG","k":10,"v":0.924},{"d":"2011-01-01","s":"SNAS AIP","k":11,"v":0.006},{"d":"2011-01-01","s":"missing","k":13,"v":0.006},
{"d":"2011-07-01","s":"Luxembourg","k":5,"v":0.012},{"d":"2011-07-01","s":"Assurance maladie","k":6,"v":0.012},{"d":"2011-07-01","s":"Pension","k":7,"v":0.012},{"d":"2011-07-01","s":"Travail","k":8,"v":0.009},{"d":"2011-07-01","s":"Travail+RMG","k":9,"v":0.016},{"d":"2011-07-01","s":"RMG","k":10,"v":0.924},{"d":"2011-07-01","s":"SNAS AIP","k":11,"v":0.012},{"d":"2011-07-01","s":"missing","k":13,"v":0.003},
{"d":"2012-01-01","s":"Luxembourg","k":5,"v":0.015},{"d":"2012-01-01","s":"Assurance maladie","k":6,"v":0.012},{"d":"2012-01-01","s":"Pension","k":7,"v":0.008},{"d":"2012-01-01","s":"Travail","k":8,"v":0.008},{"d":"2012-01-01","s":"Travail+RMG","k":9,"v":0.016},{"d":"2012-01-01","s":"RMG","k":10,"v":0.926},{"d":"2012-01-01","s":"SNAS AIP","k":11,"v":0.012},{"d":"2012-01-01","s":"missing","k":13,"v":0.003},
{"d":"2012-07-01","s":"Luxembourg","k":5,"v":0.018},{"d":"2012-07-01","s":"Assurance maladie","k":6,"v":0.010},{"d":"2012-07-01","s":"Pension","k":7,"v":0.008},{"d":"2012-07-01","s":"Travail","k":8,"v":0.014},{"d":"2012-07-01","s":"Travail+RMG","k":9,"v":0.020},{"d":"2012-07-01","s":"RMG","k":10,"v":0.912},{"d":"2012-07-01","s":"SNAS AIP","k":11,"v":0.008},{"d":"2012-07-01","s":"missing","k":13,"v":0.010},
{"d":"2013-01-01","s":"Luxembourg","k":5,"v":0.018},{"d":"2013-01-01","s":"Assurance maladie","k":6,"v":0.010},{"d":"2013-01-01","s":"Pension","k":7,"v":0.008},{"d":"2013-01-01","s":"Travail","k":8,"v":0.014},{"d":"2013-01-01","s":"Travail+RMG","k":9,"v":0.020},{"d":"2013-01-01","s":"RMG","k":10,"v":0.912},{"d":"2013-01-01","s":"SNAS AIP","k":11,"v":0.008},{"d":"2013-01-01","s":"missing","k":13,"v":0.010}
]},
"mark": {"type": "area", "interpolate": "step-after", "clip": true},
"encoding": {
"x": {"field": "d", "type": "temporal",
"scale": {"type": "utc", "nice": false, "domain": [315532800000, 1356998400000]},
"axis": {"title": "Année", "tickCount": {"interval": "month", "step": 2},
"labelExpr": "(utcmonth(datum.value)==0 && utcyear(datum.value)%3==0) ? utcFormat(datum.value,'%Y') : ''",
"offset": 3, "tickSize": 10, "tickColor": "#000", "domainColor": "#000", "grid": false,
"labelFont": "Liberation Sans", "labelFontSize": 16, "labelColor": "#000", "labelPadding": 15, "labelOverlap": false, "labelFlush": false, "labelAngle": 0,
"titleFont": "Liberation Sans", "titleFontSize": 16, "titleFontWeight": "normal", "titleColor": "#000", "titlePadding": 21}},
"y": {"field": "v", "type": "quantitative", "stack": "zero",
"scale": {"domain": [0, 1], "nice": false},
"axis": {"title": "Freq. (n=1847)", "values": [0, 0.2, 0.4, 0.6, 0.8, 1],
"labelExpr": "(datum.value < 0.05 || abs(datum.value-0.4) < 0.01 || abs(datum.value-0.8) < 0.01) ? format(datum.value,'.1f') : ''",
"offset": 24, "tickSize": 8, "tickColor": "#000", "domainColor": "#000", "grid": false,
"labelAngle": -90, "labelAlign": "center", "labelBaseline": "alphabetic", "labelPadding": 14,
"labelFont": "Liberation Sans", "labelFontSize": 16, "labelColor": "#000", "labelOverlap": false, "labelFlush": false,
"titleFont": "Liberation Sans", "titleFontSize": 16, "titleFontWeight": "normal", "titleColor": "#000", "titlePadding": 21}},
"color": {"field": "s", "type": "nominal",
"scale": {"domain": ["ADEM/MT","Chômage","Chômage+RMG","Etranger","Luxembourg","Assurance maladie","Pension","Travail","Travail+RMG","RMG","SNAS AIP","SNAS CS","missing"],
"range": ["#E0623F","#E0A000","#E04A0A","#FFFF00","#00FF00","#DFA0C4","#4080C0","#0000FF","#9B40C0","#800000","#FF0000","#C08080","#A0A0A0"]},
"legend": {"title": " ", "titleOrient": "right", "titlePadding": 12, "titleFontSize": 12, "orient": "none", "legendX": 644, "legendY": -77, "direction": "vertical",
"symbolType": "square", "symbolSize": 324, "symbolStrokeColor": "#000", "symbolStrokeWidth": 1, "symbolOffset": 5,
"labelFont": "Liberation Sans", "labelFontSize": 24, "labelColor": "#000", "labelOffset": 20, "labelLimit": 400, "rowPadding": 6.5,
"padding": 11, "strokeColor": "#000", "fillColor": "white"}},
"order": {"field": "k", "type": "quantitative", "sort": "ascending"}
}
}
